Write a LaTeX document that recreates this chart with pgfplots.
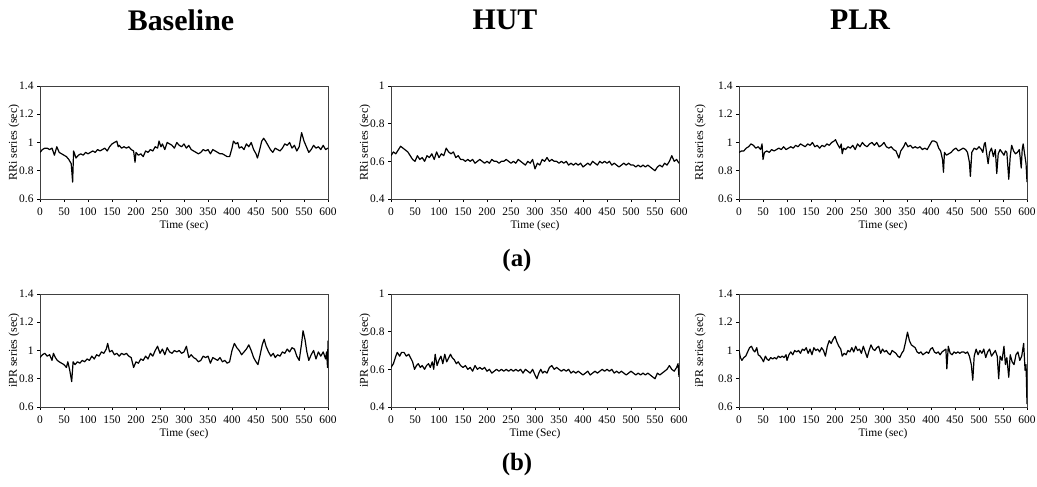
\documentclass[border=0pt]{standalone}
\usepackage{pgfplots}
\pgfplotsset{compat=1.18}
\usepackage{fontspec}
\setmainfont{Liberation Serif}
\pgfplotsset{
  panel/.style={
    scale only axis, width=288bp, height=113bp,
    xmin=0, xmax=600, xtick={0,50,...,600},
    tick pos=left, tick align=outside, major tick length=3bp,
    axis line style={black!75, line width=0.8bp},
    tick style={black, line width=0.6bp},
    ticklabel style={font=\fontsize{11.5}{12}\selectfont},
    xticklabel style={yshift=-2bp},
    /pgf/number format/assume math mode=true,
    label style={font=\fontsize{11.5}{12}\selectfont},
    xlabel style={at={(axis description cs:0.5,-0.235)}, anchor=center},
    every axis plot post/.append style={black, line width=1.2bp, line join=round, mark=none},
  },
  ylo/.style={ymin=0.6, ymax=1.4, ytick={0.6,0.8,1,1.2,1.4}},
  yhut/.style={ymin=0.4, ymax=1.0, ytick={0.4,0.6,0.8,1}},
  ylab/.style={ylabel style={at={(axis description cs:#1,0.5)}, anchor=center, font=\fontsize{12}{12}\selectfont}},
}
\begin{document}
\begin{tikzpicture}
\useasboundingbox (0,0) rectangle (1037bp,487bp);
\node[font=\fontsize{30}{30}\selectfont\bfseries] at (181bp,467bp) {Baseline};
\node[font=\fontsize{30}{30}\selectfont\bfseries] at (505bp,467bp) {HUT};
\node[font=\fontsize{30}{30}\selectfont\bfseries] at (860bp,467bp) {PLR};
\node[font=\fontsize{25}{25}\selectfont\bfseries] at (517bp,226bp) {(a)};
\node[font=\fontsize{25}{25}\selectfont\bfseries] at (517bp,22bp) {(b)};

% Panel 1: Baseline RRi
\begin{axis}[panel, ylo, ylab=-0.09, at={(40bp,288bp)}, anchor=south west,
  xlabel={Time (sec)}, ylabel={RRi series (sec)}]
\addplot coordinates {(0,0.93)(5,0.95)(10,0.96)(15,0.96)(20,0.95)(25,0.96)(30,0.91)(35,0.97)(40,0.93)(45,0.92)(50,0.91)(55,0.90)(60,0.88)(65,0.85)(68,0.72)(70,0.94)(75,0.89)(80,0.91)(85,0.92)(90,0.91)(95,0.93)(100,0.92)(105,0.93)(110,0.94)(115,0.93)(120,0.95)(125,0.94)(130,0.95)(135,0.96)(140,0.94)(145,0.97)(150,0.99)(155,1.00)(160,1.01)(163,0.97)(165,0.98)(170,0.96)(175,0.97)(180,0.96)(185,0.97)(190,0.95)(195,0.94)(198,0.86)(200,0.93)(205,0.91)(210,0.92)(215,0.90)(220,0.94)(225,0.93)(230,0.95)(235,0.94)(240,0.97)(245,0.96)(248,1.01)(252,0.97)(255,0.99)(260,0.95)(265,1.00)(270,0.99)(275,0.98)(280,0.96)(285,1.00)(290,0.98)(295,0.97)(300,0.99)(305,0.96)(310,0.98)(315,0.95)(320,0.94)(325,0.93)(330,0.92)(335,0.93)(340,0.95)(345,0.94)(350,0.95)(355,0.92)(360,0.95)(365,0.94)(370,0.93)(375,0.92)(380,0.92)(385,0.91)(390,0.90)(395,0.90)(400,0.96)(403,1.01)(408,0.99)(412,1.00)(415,0.96)(420,0.97)(425,0.95)(430,0.99)(435,0.97)(440,1.00)(445,0.95)(450,0.92)(453,0.89)(457,0.94)(462,1.01)(466,1.03)(470,1.01)(475,0.98)(480,0.95)(485,0.93)(490,0.96)(495,0.95)(500,0.94)(505,0.96)(510,0.99)(515,0.98)(520,1.00)(525,0.96)(530,0.98)(535,0.94)(540,0.97)(545,1.07)(550,1.01)(555,0.97)(560,0.93)(565,0.95)(570,0.98)(575,0.96)(580,0.97)(585,0.95)(590,0.98)(595,0.95)(600,0.96)};
\end{axis}

% Panel 2: HUT RRi
\begin{axis}[panel, yhut, ylab=-0.09, at={(391bp,288bp)}, anchor=south west,
  xlabel={Time (sec)}, ylabel={RRi series (sec)}]
\addplot coordinates {(0,0.63)(5,0.65)(10,0.64)(15,0.66)(20,0.68)(25,0.67)(30,0.66)(35,0.65)(40,0.63)(45,0.61)(50,0.60)(55,0.63)(60,0.61)(65,0.62)(70,0.60)(75,0.63)(80,0.62)(85,0.64)(90,0.61)(95,0.65)(100,0.62)(105,0.64)(110,0.63)(115,0.67)(120,0.65)(125,0.64)(130,0.65)(135,0.62)(140,0.63)(145,0.61)(150,0.61)(155,0.60)(160,0.61)(165,0.60)(170,0.61)(175,0.59)(180,0.60)(185,0.61)(190,0.60)(195,0.59)(200,0.60)(205,0.59)(210,0.61)(215,0.60)(220,0.60)(225,0.59)(230,0.60)(235,0.60)(240,0.61)(245,0.60)(250,0.59)(255,0.60)(260,0.59)(265,0.61)(270,0.60)(275,0.59)(280,0.58)(285,0.60)(290,0.59)(295,0.61)(300,0.56)(305,0.59)(310,0.58)(315,0.61)(320,0.60)(325,0.62)(330,0.60)(335,0.61)(340,0.60)(345,0.60)(350,0.59)(355,0.60)(360,0.59)(365,0.60)(370,0.58)(375,0.59)(380,0.58)(385,0.59)(390,0.58)(395,0.59)(400,0.57)(405,0.58)(410,0.59)(415,0.58)(420,0.60)(425,0.59)(430,0.58)(435,0.60)(440,0.59)(445,0.60)(450,0.59)(455,0.60)(460,0.58)(465,0.59)(470,0.58)(475,0.57)(480,0.58)(485,0.59)(490,0.58)(495,0.59)(500,0.58)(505,0.58)(510,0.57)(515,0.58)(520,0.57)(525,0.58)(530,0.57)(535,0.58)(540,0.57)(545,0.56)(550,0.55)(555,0.57)(560,0.58)(565,0.57)(570,0.59)(575,0.58)(580,0.60)(585,0.63)(590,0.60)(595,0.61)(600,0.59)};
\end{axis}

% Panel 3: PLR RRi
\begin{axis}[panel, ylo, ylab=-0.135, at={(739bp,288bp)}, anchor=south west,
  xlabel={Time (sec)}, ylabel={RRi series (sec)}]
\addplot coordinates {(0,0.93)(5,0.94)(10,0.94)(15,0.96)(20,0.97)(25,0.99)(30,0.98)(35,0.96)(40,0.97)(45,0.95)(48,0.99)(50,0.88)(53,0.93)(58,0.94)(63,0.93)(68,0.95)(73,0.94)(78,0.95)(83,0.96)(88,0.95)(93,0.97)(98,0.95)(103,0.96)(108,0.97)(113,0.96)(118,0.98)(123,0.97)(128,0.99)(133,0.98)(138,0.97)(143,0.99)(148,0.98)(153,1.00)(158,0.97)(163,0.98)(168,0.96)(173,0.98)(178,0.97)(183,0.99)(188,0.98)(193,1.00)(198,1.01)(201,1.02)(205,0.99)(210,0.96)(213,0.99)(215,0.92)(218,0.96)(222,0.95)(227,0.97)(232,0.96)(237,0.98)(242,0.95)(247,0.99)(252,0.97)(257,1.00)(262,0.98)(267,0.97)(272,0.99)(277,1.00)(282,0.98)(287,1.00)(292,0.97)(297,0.98)(302,1.00)(307,0.97)(312,0.96)(317,0.97)(322,0.95)(327,0.94)(333,0.89)(337,0.94)(343,0.97)(347,1.00)(352,0.97)(357,0.98)(362,0.96)(367,0.97)(372,0.96)(377,0.97)(382,0.95)(387,0.96)(392,0.95)(397,0.98)(402,1.01)(407,1.01)(412,1.00)(416,0.96)(420,0.94)(424,0.88)(426,0.79)(428,0.93)(432,0.91)(437,0.92)(442,0.93)(447,0.95)(452,0.96)(457,0.94)(462,0.95)(467,0.96)(472,0.95)(476,0.93)(480,0.86)(482,0.76)(485,0.93)(490,0.96)(495,0.95)(500,0.97)(505,0.95)(508,0.93)(511,0.99)(513,1.00)(516,0.92)(519,0.85)(522,0.93)(526,0.96)(530,0.90)(534,0.95)(537,0.78)(540,0.92)(544,0.95)(548,0.93)(552,0.91)(555,0.94)(558,0.93)(562,0.74)(565,0.90)(568,0.98)(572,0.94)(576,0.92)(580,0.93)(584,0.95)(588,0.82)(590,0.95)(592,0.99)(595,0.92)(598,0.85)(600,0.72)};
\end{axis}

% Panel 4: Baseline iPR
\begin{axis}[panel, ylo, ylab=-0.09, at={(40bp,80bp)}, anchor=south west,
  xlabel={Time (sec)}, ylabel={iPR series (sec)}]
\addplot coordinates {(0,0.95)(5,0.97)(10,0.98)(15,0.96)(20,0.97)(25,0.93)(28,0.98)(32,0.95)(36,0.93)(40,0.92)(45,0.91)(50,0.90)(55,0.88)(58,0.92)(62,0.86)(66,0.78)(69,0.92)(73,0.90)(78,0.92)(83,0.91)(88,0.93)(93,0.92)(98,0.94)(103,0.93)(108,0.96)(113,0.94)(118,0.97)(123,0.96)(128,0.99)(133,0.98)(138,1.01)(141,1.05)(145,0.99)(150,1.00)(155,0.97)(160,0.98)(165,0.96)(170,0.98)(175,0.97)(180,0.98)(185,0.96)(190,0.95)(195,0.88)(200,0.92)(205,0.91)(210,0.94)(215,0.93)(220,0.96)(225,0.94)(230,0.98)(235,0.96)(240,1.00)(245,1.03)(250,0.98)(255,1.01)(260,0.97)(265,1.02)(270,0.99)(275,0.98)(280,1.00)(285,0.99)(290,1.00)(295,0.98)(300,0.99)(305,1.03)(310,0.95)(315,0.97)(320,0.95)(325,0.94)(330,0.92)(335,0.93)(340,0.96)(345,0.95)(350,0.96)(355,0.91)(360,0.95)(365,0.94)(370,0.93)(375,0.95)(380,0.92)(385,0.93)(390,0.91)(395,0.92)(400,1.00)(405,1.05)(410,1.02)(415,1.00)(420,0.97)(425,0.99)(430,1.01)(435,1.04)(440,1.00)(445,0.95)(450,0.92)(454,0.90)(458,0.96)(463,1.04)(467,1.08)(471,1.03)(476,0.99)(481,0.96)(486,0.98)(490,0.95)(495,0.97)(500,0.96)(505,0.99)(510,0.98)(515,1.01)(520,0.99)(525,1.02)(530,1.01)(535,0.96)(540,0.93)(545,1.05)(548,1.14)(552,1.08)(556,0.99)(560,0.93)(565,0.97)(570,1.00)(575,0.94)(580,0.99)(585,0.96)(590,0.99)(595,0.94)(597,0.99)(599,0.88)(600,1.07)};
\end{axis}

% Panel 5: HUT iPR
\begin{axis}[panel, yhut, ylab=-0.09, at={(391bp,80bp)}, anchor=south west,
  xlabel={Time (Sec)}, ylabel={iPR series (sec)}]
\addplot coordinates {(0,0.61)(5,0.63)(10,0.67)(13,0.69)(18,0.67)(22,0.69)(27,0.69)(32,0.67)(37,0.68)(41,0.66)(45,0.64)(49,0.60)(53,0.62)(57,0.63)(61,0.61)(65,0.62)(70,0.60)(74,0.62)(78,0.63)(82,0.61)(86,0.64)(89,0.60)(92,0.68)(96,0.62)(100,0.65)(104,0.67)(108,0.63)(112,0.68)(116,0.64)(120,0.66)(124,0.68)(128,0.66)(132,0.65)(136,0.63)(140,0.64)(145,0.62)(150,0.61)(155,0.62)(160,0.60)(165,0.61)(170,0.59)(175,0.62)(180,0.60)(185,0.61)(190,0.60)(195,0.61)(200,0.59)(205,0.60)(210,0.58)(215,0.59)(220,0.60)(225,0.59)(230,0.60)(235,0.59)(240,0.60)(245,0.59)(250,0.60)(255,0.59)(260,0.60)(265,0.59)(270,0.60)(275,0.58)(280,0.60)(285,0.59)(290,0.58)(295,0.60)(300,0.57)(304,0.55)(308,0.58)(312,0.60)(316,0.58)(320,0.59)(325,0.58)(330,0.61)(335,0.62)(340,0.60)(345,0.61)(350,0.60)(355,0.59)(360,0.60)(365,0.59)(370,0.60)(375,0.58)(380,0.59)(385,0.58)(390,0.59)(395,0.58)(400,0.57)(405,0.58)(410,0.59)(415,0.57)(420,0.58)(425,0.59)(430,0.58)(435,0.59)(440,0.60)(445,0.59)(450,0.60)(455,0.59)(460,0.60)(465,0.58)(470,0.59)(475,0.58)(480,0.59)(485,0.58)(490,0.57)(495,0.58)(500,0.59)(505,0.58)(510,0.57)(515,0.58)(520,0.57)(525,0.58)(530,0.57)(535,0.58)(540,0.57)(545,0.56)(550,0.55)(555,0.58)(560,0.57)(565,0.58)(570,0.59)(575,0.60)(580,0.62)(585,0.60)(590,0.59)(595,0.61)(598,0.63)(600,0.56)};
\end{axis}

% Panel 6: PLR iPR
\begin{axis}[panel, ylo, ylab=-0.135, at={(739bp,80bp)}, anchor=south west,
  xlabel={Time (sec)}, ylabel={iPR series (sec)}]
\addplot coordinates {(0,1.00)(3,0.95)(6,0.93)(10,0.95)(14,0.96)(18,0.99)(22,1.02)(26,1.03)(30,1.00)(33,0.99)(37,1.02)(40,0.97)(44,0.96)(48,0.94)(51,0.92)(55,0.96)(58,0.94)(62,0.93)(66,0.95)(70,0.94)(74,0.95)(78,0.94)(82,0.96)(86,0.95)(90,0.96)(94,0.95)(98,0.97)(100,0.93)(104,0.97)(108,0.99)(112,0.97)(116,1.00)(120,0.99)(124,1.00)(128,0.98)(132,1.01)(136,1.00)(140,1.02)(144,0.98)(148,1.01)(152,0.97)(156,1.02)(160,1.00)(164,1.01)(168,0.99)(172,1.02)(176,1.00)(180,0.96)(184,1.03)(188,1.07)(192,1.05)(196,1.08)(200,1.10)(204,1.06)(208,1.03)(212,1.01)(215,0.96)(219,0.98)(223,0.97)(227,1.00)(231,0.99)(235,1.02)(239,0.99)(243,1.03)(247,1.00)(251,1.01)(255,0.98)(259,1.03)(263,0.99)(267,0.95)(271,1.00)(275,1.04)(279,1.01)(283,1.00)(287,1.02)(291,1.03)(295,0.98)(299,1.01)(303,0.99)(307,1.00)(311,0.98)(315,0.97)(319,1.00)(323,0.99)(327,0.98)(331,0.96)(335,0.95)(339,0.98)(343,1.00)(347,1.06)(351,1.13)(355,1.07)(359,1.04)(363,1.03)(367,1.02)(371,0.99)(375,0.98)(379,0.99)(383,0.97)(387,0.98)(391,0.99)(395,0.98)(399,1.01)(403,1.02)(407,0.99)(411,0.98)(415,0.99)(419,0.97)(423,0.99)(427,1.00)(431,1.01)(433,0.87)(436,1.03)(440,0.98)(444,0.97)(448,0.99)(452,0.98)(456,0.99)(460,0.98)(464,0.99)(468,0.99)(472,0.98)(476,0.99)(480,0.96)(484,0.90)(487,0.79)(490,0.96)(494,1.01)(498,0.97)(502,1.00)(506,0.98)(510,1.01)(514,0.95)(518,0.99)(522,1.01)(526,0.96)(530,0.98)(534,1.00)(538,0.96)(541,0.80)(544,0.96)(548,0.93)(552,1.03)(555,0.90)(558,0.95)(562,0.81)(565,0.97)(569,0.92)(573,0.90)(577,0.97)(581,0.99)(585,0.93)(589,0.96)(593,1.05)(596,0.86)(598,0.90)(600,0.62)};
\end{axis}
\end{tikzpicture}
\end{document}
